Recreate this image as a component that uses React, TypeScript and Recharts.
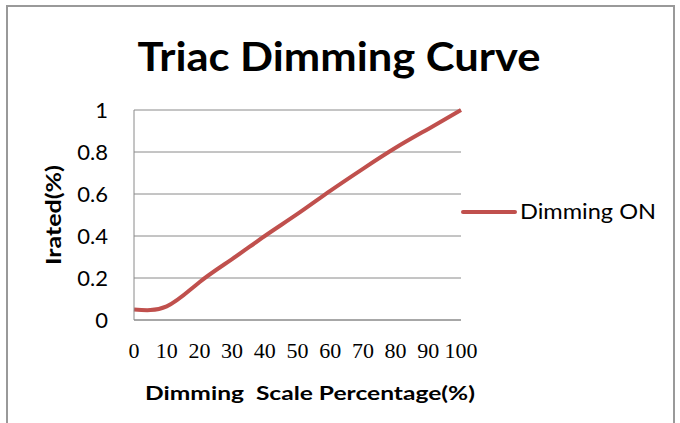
import React from 'react';
import { LineChart, Line, XAxis, YAxis, CartesianGrid, Legend } from 'recharts';

const scalePct = [0, 10, 20, 30, 40, 50, 60, 70, 80, 90, 100];
const dimmingOn = [0.05, 0.065, 0.18, 0.29, 0.4, 0.505, 0.615, 0.72, 0.82, 0.91, 1];
const xTicks = [0, 10, 20, 30, 40, 50, 60, 70, 80, 90, 100];
const yTicks = [0, 0.2, 0.4, 0.6, 0.8, 1];

const data = scalePct.map((x, i) => ({ x, on: dimmingOn[i] }));

const RED = '#C0504D';
const GRID = '#8a8a8a';
const SANS = 'Lato, "Open Sans", sans-serif';

const LegendBox = () => (
  <svg width={200} height={30}>
    <line x1={3} y1={14} x2={55} y2={14} stroke={RED} strokeWidth={4} strokeLinecap="round" />
    <text x={60} y={21} fontFamily={SANS} fontSize={21} fill="#000" textLength={136} lengthAdjust="spacingAndGlyphs">
      Dimming ON
    </text>
  </svg>
);

export default function App() {
  return (
    <div style={{ position: 'absolute', left: 0, top: 0, width: 680, height: 423, background: '#fff', overflow: 'hidden' }}>
      {/* outer chart frame, bottom edge is off screen */}
      <div style={{ position: 'absolute', left: 6, top: 5, width: 665, height: 440, border: '2px solid #999' }} />

      <svg width={680} height={423} style={{ position: 'absolute', left: 0, top: 0 }}>
        <text x={339} y={71} textAnchor="middle" fontFamily={SANS} fontWeight={700} fontSize={40} textLength={403} lengthAdjust="spacingAndGlyphs">
          Triac Dimming Curve
        </text>
        <text x={310} y={400} textAnchor="middle" fontFamily={SANS} fontWeight={700} fontSize={19} textLength={330} lengthAdjust="spacingAndGlyphs" style={{ whiteSpace: 'pre' }}>
          {'Dimming\u00a0 Scale Percentage(%)'}
        </text>
        <text x={0} y={0} transform="translate(61,215) rotate(-90)" textAnchor="middle" fontFamily={SANS} fontWeight={700} fontSize={20} textLength={100} lengthAdjust="spacingAndGlyphs">
          Irated(%)
        </text>
      </svg>

      <div style={{ position: 'absolute', left: 0, top: 0 }}>
        <LineChart width={680} height={423} data={data} margin={{ top: 110, right: 19, bottom: 63, left: 74 }}>
          <CartesianGrid horizontal vertical={false} stroke={GRID} />
          <XAxis
            dataKey="x"
            type="number"
            domain={[0, 100]}
            ticks={xTicks}
            interval={0}
            tickLine={false}
            tickSize={0}
            tickMargin={22}
            height={40}
            axisLine={{ stroke: GRID }}
            tick={{ fontFamily: '"Liberation Serif", "DejaVu Serif", serif', fontSize: 22, fill: '#000' }}
          />
          <YAxis
            type="number"
            domain={[0, 1]}
            ticks={yTicks}
            interval={0}
            tickLine={false}
            tickSize={0}
            tickMargin={26}
            width={60}
            axisLine={{ stroke: GRID }}
            tick={{ fontFamily: SANS, fontSize: 22, fill: '#000' }}
          />
          <Legend
            layout="vertical"
            align="right"
            verticalAlign="top"
            content={() => <LegendBox />}
            wrapperStyle={{ position: 'absolute', left: 460, top: 198, width: 200 }}
          />
          <Line
            type="natural"
            dataKey="on"
            name="Dimming ON"
            stroke={RED}
            strokeWidth={4}
            dot={false}
            isAnimationActive={false}
          />
        </LineChart>
      </div>
    </div>
  );
}
